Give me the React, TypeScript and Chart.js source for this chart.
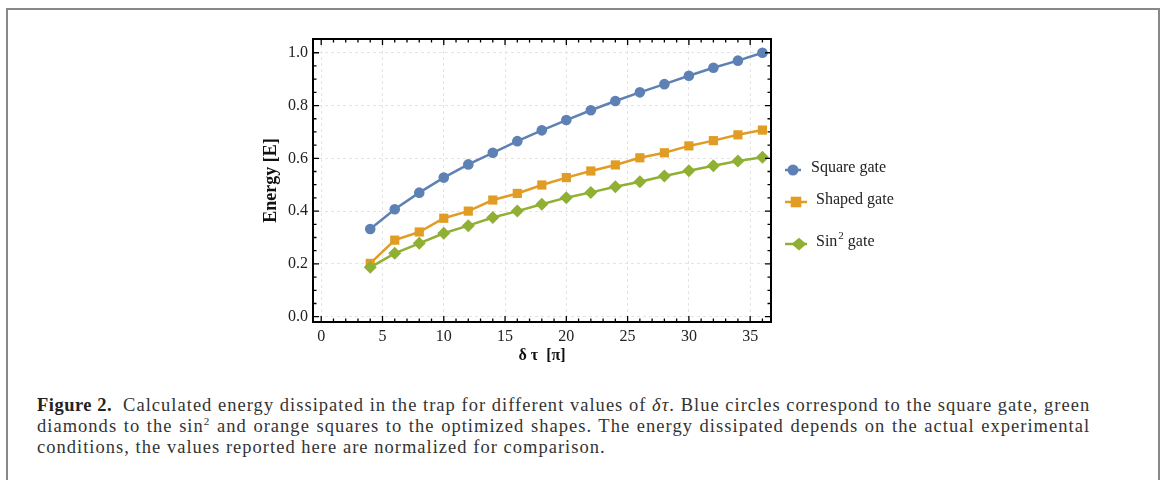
import React, { useEffect, useRef } from "react";
import { Chart, registerables } from "chart.js";

Chart.register(...registerables);

const xValues = [4, 6, 8, 10, 12, 14, 16, 18, 20, 22, 24, 26, 28, 30, 32, 34, 36];
const squareGate = [0.332, 0.407, 0.470, 0.527, 0.577, 0.621, 0.665, 0.706, 0.745, 0.782, 0.817, 0.850, 0.881, 0.913, 0.943, 0.970, 1.0];
const shapedGate = [0.202, 0.290, 0.321, 0.373, 0.400, 0.442, 0.467, 0.499, 0.527, 0.552, 0.575, 0.602, 0.621, 0.647, 0.667, 0.689, 0.707];
const sin2Gate = [0.187, 0.240, 0.278, 0.316, 0.345, 0.376, 0.400, 0.426, 0.451, 0.471, 0.492, 0.511, 0.533, 0.553, 0.572, 0.590, 0.604];
const xTicks = [0, 5, 10, 15, 20, 25, 30, 35];
const yTicks = [0, 0.2, 0.4, 0.6, 0.8, 1.0];
const seriesNames = ["Square gate", "Shaped gate", "Sin2 gate"];

const BLUE = "#5e81b5";
const ORANGE = "#e19c24";
const GREEN = "#8fb032";
const SERIF = "'Liberation Serif', 'DejaVu Serif', serif";

function drawMarker(ctx: CanvasRenderingContext2D, style: string, x: number, y: number, r: number, color: string) {
  ctx.save();
  ctx.fillStyle = color;
  ctx.beginPath();
  if (style === "circle") {
    ctx.arc(x, y, r, 0, Math.PI * 2);
  } else if (style === "rect") {
    const s = r * Math.SQRT1_2;
    ctx.rect(x - s, y - s, 2 * s, 2 * s);
  } else {
    ctx.moveTo(x - r, y);
    ctx.lineTo(x, y - r * 0.85);
    ctx.lineTo(x + r, y);
    ctx.lineTo(x, y + r * 0.85);
    ctx.closePath();
  }
  ctx.fill();
  ctx.restore();
}

const framePlugin = {
  id: "frameTicks",
  afterDraw(chart: any) {
    const ctx: CanvasRenderingContext2D = chart.ctx;
    const { left, right, top, bottom } = chart.chartArea;
    const xs = chart.scales.x;
    const ys = chart.scales.y;
    ctx.save();
    ctx.strokeStyle = "#000";
    ctx.lineWidth = 1.3;
    for (let v = Math.ceil(xs.min); v <= xs.max; v += 1) {
      const px = xs.getPixelForValue(v);
      const len = v % 5 === 0 ? 6 : 3.5;
      ctx.beginPath();
      ctx.moveTo(px, bottom);
      ctx.lineTo(px, bottom - len);
      ctx.moveTo(px, top);
      ctx.lineTo(px, top + len);
      ctx.stroke();
    }
    for (let i = 0; i <= 20; i++) {
      const v = i * 0.05;
      if (v > ys.max) break;
      const py = ys.getPixelForValue(v);
      const len = i % 4 === 0 ? 6 : 3.5;
      ctx.beginPath();
      ctx.moveTo(left, py);
      ctx.lineTo(left + len, py);
      ctx.moveTo(right, py);
      ctx.lineTo(right - len, py);
      ctx.stroke();
    }
    ctx.lineWidth = 2;
    ctx.strokeRect(left, top, right - left, bottom - top);
    ctx.restore();

    const items = [
      { name: seriesNames[0], color: BLUE, style: "circle", r: 5.5, y: 170, x0: 785, x1: 801, mx: 793, tx: 811 },
      { name: seriesNames[1], color: ORANGE, style: "rect", r: 7.5, y: 202, x0: 785, x1: 807, mx: 796, tx: 816 },
      { name: seriesNames[2], color: GREEN, style: "diamond", r: 7.5, y: 244, x0: 785, x1: 807, mx: 799, tx: 816 },
    ];
    ctx.save();
    ctx.textBaseline = "middle";
    for (const it of items) {
      ctx.strokeStyle = it.color;
      ctx.lineWidth = 2.5;
      ctx.beginPath();
      ctx.moveTo(it.x0, it.y);
      ctx.lineTo(it.x1, it.y);
      ctx.stroke();
      drawMarker(ctx, it.style, it.mx, it.y, it.r, it.color);
      ctx.fillStyle = "#222";
      ctx.font = `16px ${SERIF}`;
      const ty = it.y - 2;
      if (it.name === "Sin2 gate") {
        ctx.fillText("Sin", it.tx, ty);
        const w = ctx.measureText("Sin").width;
        ctx.font = `11px ${SERIF}`;
        ctx.fillText("2", it.tx + w + 1, ty - 6);
        const w2 = ctx.measureText("2").width;
        ctx.font = `16px ${SERIF}`;
        ctx.fillText(" gate", it.tx + w + 1 + w2, ty);
      } else {
        ctx.fillText(it.name, it.tx, ty);
      }
    }
    ctx.restore();
  },
};

function ChartCanvas() {
  const ref = useRef<HTMLCanvasElement | null>(null);
  useEffect(() => {
    if (!ref.current) return;
    const mk = (label: string, data: number[], color: string, style: string, r: number) => ({
      label,
      data: xValues.map((x, i) => ({ x, y: data[i] })),
      borderColor: color,
      backgroundColor: color,
      borderWidth: 2.5,
      pointStyle: style,
      pointRadius: r,
      pointBorderWidth: 0,
      pointHoverRadius: r,
      tension: 0,
    });
    const chart = new Chart(ref.current, {
      type: "line",
      data: {
        datasets: [
          mk(seriesNames[2], sin2Gate, GREEN, "rectRot", 6.5),
          mk(seriesNames[1], shapedGate, ORANGE, "rect", 6.5),
          mk(seriesNames[0], squareGate, BLUE, "circle", 5.3),
        ] as any,
      },
      options: {
        animation: false,
        responsive: false,
        layout: { padding: { left: 261, right: 394, top: 39, bottom: 15 } },
        plugins: { legend: { display: false }, tooltip: { enabled: false } },
        scales: {
          x: {
            type: "linear",
            min: -0.67,
            max: 36.7,
            afterBuildTicks: (s: any) => {
              s.ticks = xTicks.map((v) => ({ value: v }));
            },
            afterFit: (s: any) => {
              s.height = 43;
            },
            grid: { color: "#e4e4e4", lineWidth: 1, drawTicks: false },
            border: { display: false, dash: [3, 3] },
            ticks: {
              padding: 5,
              color: "#222",
              font: { family: SERIF, size: 16 },
              maxRotation: 0,
              callback: (v: any) => String(v),
            },
            title: {
              display: true,
              text: "δ τ  [π]",
              color: "#111",
              font: { family: SERIF, size: 16, weight: "bold" },
              padding: 0,
            },
          },
          y: {
            type: "linear",
            min: -0.02,
            max: 1.052,
            afterBuildTicks: (s: any) => {
              s.ticks = yTicks.map((v) => ({ value: v }));
            },
            afterFit: (s: any) => {
              s.width = 52;
            },
            grid: { color: "#e4e4e4", lineWidth: 1, drawTicks: false },
            border: { display: false, dash: [3, 3] },
            ticks: {
              padding: 5,
              color: "#222",
              font: { family: SERIF, size: 16 },
              callback: (v: any) => Number(v).toFixed(1),
            },
            title: {
              display: true,
              text: "Energy [E]",
              color: "#111",
              font: { family: SERIF, size: 18, weight: "bold" },
              padding: 0,
            },
          },
        },
      } as any,
      plugins: [framePlugin],
    });
    return () => chart.destroy();
  }, []);
  return (
    <canvas
      ref={ref}
      width={1165}
      height={380}
      style={{ position: "absolute", left: 0, top: 0, width: 1165, height: 380 }}
    />
  );
}

const captionLines = [
  "Calculated energy dissipated in the trap for different values of ",
  "diamonds to the sin",
  "conditions, the values reported here are normalized for comparison.",
];

export default function App() {
  const capStyle: React.CSSProperties = {
    whiteSpace: "nowrap",
    height: 21,
    lineHeight: "21px",
  };
  return (
    <div style={{ position: "absolute", left: 0, top: 0, width: 1165, height: 480, overflow: "hidden", background: "#fff" }}>
      <div
        style={{
          position: "absolute",
          left: 6,
          top: 8,
          width: 1150,
          height: 520,
          border: "2px solid #888",
          borderBottom: "none",
        }}
      />
      <ChartCanvas />
      <div
        style={{
          position: "absolute",
          left: 37,
          top: 395,
          fontFamily: SERIF,
          fontSize: 18.5,
          letterSpacing: "1.02px",
          color: "#333",
        }}
      >
        <div style={capStyle}>
          <b style={{ color: "#222", letterSpacing: "0.5px" }}>Figure 2.</b>
          <span style={{ marginLeft: 11 }}>
            {captionLines[0]}<i>δτ</i>. Blue circles correspond to the square gate, green
          </span>
        </div>
        <div style={{ ...capStyle, wordSpacing: "1px" }}>
          {captionLines[1]}
          <sup style={{ fontSize: "0.6em", lineHeight: 0 }}>2</sup> and orange squares to the optimized shapes. The energy dissipated depends on the actual experimental
        </div>
        <div style={capStyle}>{captionLines[2]}</div>
      </div>
    </div>
  );
}
